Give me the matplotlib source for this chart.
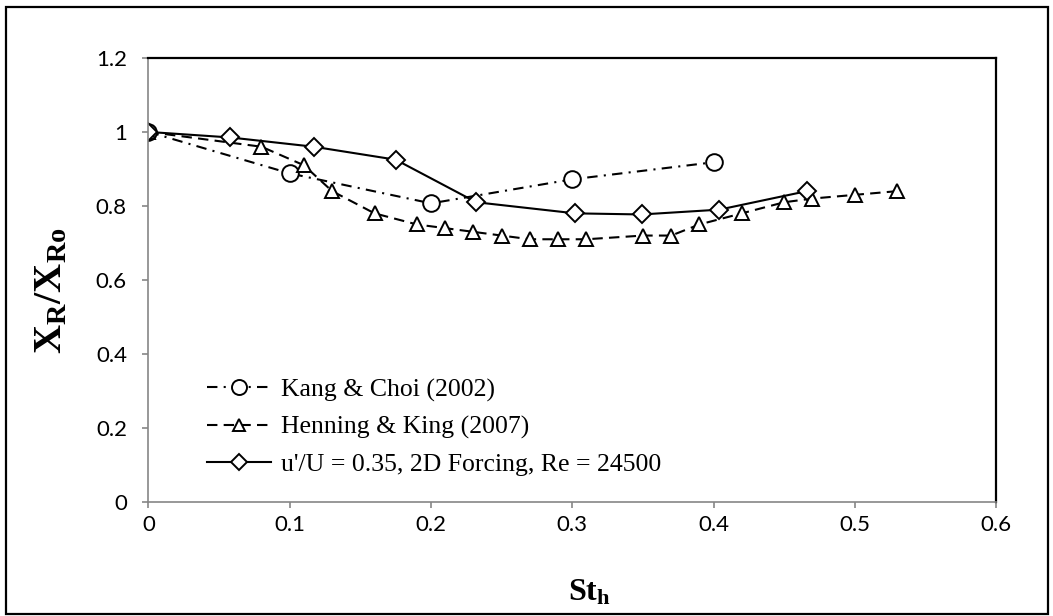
import matplotlib
matplotlib.use("Agg")
import matplotlib.pyplot as plt
from matplotlib.patches import Rectangle
from matplotlib.ticker import FuncFormatter

# Kang & Choi (2002)
kang_st = [0.0, 0.1, 0.2, 0.3, 0.4]
kang_xr = [1.0, 0.888, 0.807, 0.872, 0.918]

# Henning & King (2007)
henning_st = [0.0, 0.08, 0.11, 0.13, 0.16, 0.19, 0.21, 0.23, 0.25, 0.27, 0.29,
              0.31, 0.35, 0.37, 0.39, 0.42, 0.45, 0.47, 0.50, 0.53]
henning_xr = [1.0, 0.96, 0.91, 0.84, 0.78, 0.75, 0.74, 0.73, 0.72, 0.71, 0.71,
              0.71, 0.72, 0.72, 0.75, 0.78, 0.81, 0.82, 0.83, 0.84]

# u'/U = 0.35, 2D forcing
forced_st = [0.0, 0.058, 0.117, 0.175, 0.232, 0.302, 0.349, 0.404, 0.466]
forced_xr = [1.0, 0.985, 0.96, 0.925, 0.81, 0.78, 0.777, 0.79, 0.84]

labels = ["Kang & Choi (2002)", "Henning & King (2007)",
          "u'/U = 0.35, 2D Forcing, Re = 24500"]

plt.rcParams['mathtext.fontset'] = 'custom'
plt.rcParams['mathtext.rm'] = 'Liberation Serif'
plt.rcParams['mathtext.bf'] = 'Liberation Serif:bold'

fig = plt.figure(figsize=(10.53, 6.16), dpi=100)
ax = fig.add_axes([0.141, 0.185, 0.805, 0.721])

ax.plot(kang_st, kang_xr, color='black', lw=1.5, dashes=(5, 3, 1, 3),
        marker='o', ms=12, mfc='white', mec='black', mew=1.4, label=labels[0])
ax.plot(henning_st, henning_xr, color='black', lw=1.5, dashes=(5, 3),
        marker='^', ms=10, mfc='white', mec='black', mew=1.4, label=labels[1])
ax.plot(forced_st, forced_xr, color='black', lw=1.5,
        marker='D', ms=9.5, mfc='white', mec='black', mew=1.4, label=labels[2])

ax.set_xlim(0, 0.6)
ax.set_ylim(0, 1.2)
ax.set_xticks([0, 0.1, 0.2, 0.3, 0.4, 0.5, 0.6])
ax.set_yticks([0, 0.2, 0.4, 0.6, 0.8, 1.0, 1.2])
fmt = FuncFormatter(lambda v, p: '%g' % round(v, 2))
ax.xaxis.set_major_formatter(fmt)
ax.yaxis.set_major_formatter(fmt)

for s in ['left', 'bottom']:
    ax.spines[s].set_color('#868686')
    ax.spines[s].set_linewidth(1.2)
for s in ['top', 'right']:
    ax.spines[s].set_color('black')
    ax.spines[s].set_linewidth(1.6)
ax.tick_params(direction='out', length=4.5, width=1.2, color='#868686',
               labelsize=16)
ax.tick_params(axis='x', pad=5)
ax.tick_params(axis='y', pad=11)
for t in ax.get_xticklabels() + ax.get_yticklabels():
    t.set_fontfamily('Lato')

ax.set_xlabel(r'$\mathbf{St_h}$', fontsize=23, va='center')
ax.set_ylabel(r'$\mathbf{X_R/X_{Ro}}$', fontsize=29, va='center')
ax.xaxis.set_label_coords(0.52, -0.203)
ax.yaxis.set_label_coords(-0.116, 0.475)

ax.legend(loc='upper left', bbox_to_anchor=(0.069, 0.279), frameon=False,
          prop={'family': 'Liberation Serif', 'size': 18.5}, handlelength=2.5,
          markerscale=0.9, labelspacing=0.55, handletextpad=0.4,
          borderpad=0, borderaxespad=0)

fig.patches.append(Rectangle((0.006, 0.004), 0.989, 0.985, transform=fig.transFigure,
                             fill=False, edgecolor='black', linewidth=1.6))

fig.savefig('out.png', dpi=100)
